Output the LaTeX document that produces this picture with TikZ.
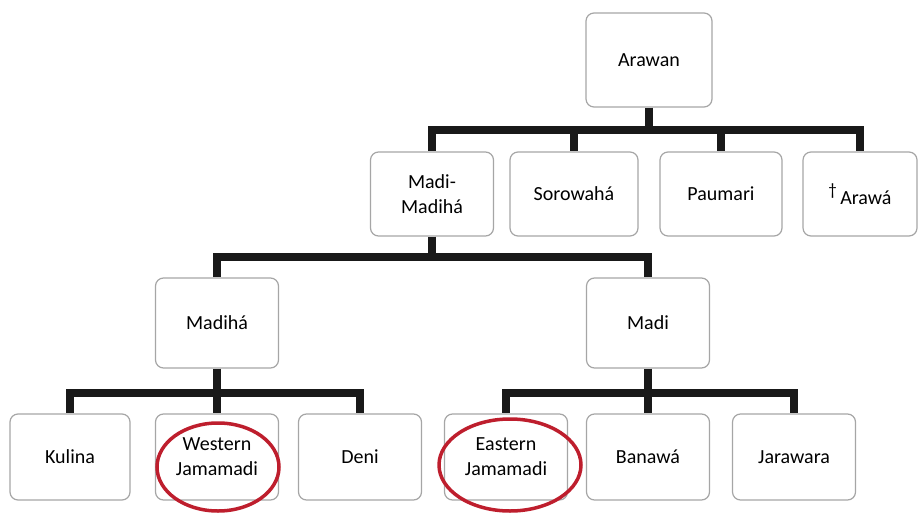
\documentclass[tikz,border=0pt]{standalone}
\usepackage{fontspec}
\setmainfont{Carlito}
\usetikzlibrary{positioning,shapes.geometric}
\definecolor{ringred}{RGB}{190,30,45}
\begin{document}
\begin{tikzpicture}[x=1pt, y=-1pt, font=\fontsize{20}{25}\selectfont]
    \tikzstyle{lang} = [draw=black!35, line width=1.2pt, rounded corners=8pt, fill=white, align=center, minimum width=123pt, minimum height=86pt, inner sep=2pt]
    \tikzstyle{bar} = [line width=8pt, black!90]
    \tikzstyle{ring} = [draw=ringred, line width=3.5pt, ellipse]
    \useasboundingbox (0,0) rectangle (920,513);

    % family and first split
    \node[lang, minimum width=126pt, minimum height=94pt] (arawan) at (649,60) {Arawan};
    \node[lang, minimum height=84pt] (madimadiha) at (432,194) {Madi-\\Madihá};
    \node[lang, minimum width=128pt, minimum height=84pt] (sorowaha) at (574,194) {Sorowahá};
    \node[lang, minimum width=122pt, minimum height=84pt] (paumari) at (721,194) {Paumari};
    \node[lang, minimum width=114pt, minimum height=84pt] (arawa) at (860,194) {\raisebox{9pt}{\fontsize{17}{17}\selectfont\textdagger}\,Arawá};

    % second split
    \node[lang, minimum height=90pt] (madiha) at (217,323) {Madihá};
    \node[lang, minimum height=90pt] (madi) at (648,323) {Madi};

    % leaves
    \node[lang, minimum width=120pt] (kulina) at (70,457) {Kulina};
    \node[lang] (wjamamadi) at (217,457) {Western\\Jamamadi};
    \node[lang] (deni) at (360,457) {Deni};
    \node[lang] (ejamamadi) at (506,457) {Eastern\\Jamamadi};
    \node[lang] (banawa) at (648,457) {Banawá};
    \node[lang] (jarawara) at (794,457) {Jarawara};

    % buses
    \coordinate (b1) at (649,130);
    \coordinate (b2) at (432,257);
    \coordinate (b3) at (217,393);
    \coordinate (b4) at (648,393);

    \draw[bar] (arawan.south) -- (b1) -| (madimadiha.north);
    \draw[bar] (b1) -| (sorowaha.north);
    \draw[bar] (b1) -| (paumari.north);
    \draw[bar] (b1) -| (arawa.north);

    \draw[bar] (madimadiha.south) -- (b2) -| (madiha.north);
    \draw[bar] (b2) -| (madi.north);

    \draw[bar] (madiha.south) -- (b3) -| (kulina.north);
    \draw[bar] (b3) -- (wjamamadi.north);
    \draw[bar] (b3) -| (deni.north);

    \draw[bar] (madi.south) -- (b4) -| (ejamamadi.north);
    \draw[bar] (b4) -- (banawa.north);
    \draw[bar] (b4) -| (jarawara.north);

    % the two Jamamadi circled
    \node[ring, minimum width=122pt, minimum height=88pt] (wring) at (218,467) {};
    \node[ring, minimum width=142pt, minimum height=92pt] (ering) at (510,465) {};
\end{tikzpicture}
\end{document}
